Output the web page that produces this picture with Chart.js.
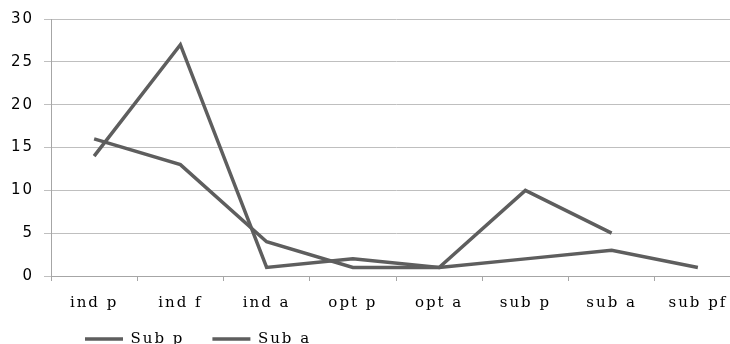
<!DOCTYPE html>
<html>
<head>
<meta charset="utf-8">
<script src="https://cdn.jsdelivr.net/npm/chart.js@4.4.1/dist/chart.umd.min.js"></script>
<style>
  html, body { margin: 0; padding: 0; background: #fff; overflow: hidden; }
  canvas { display: block; }
</style>
</head>
<body>
<canvas id="myChart" width="745" height="344"></canvas>
<script>
var categories = ['ind p', 'ind f', 'ind a', 'opt p', 'opt a', 'sub p', 'sub a', 'sub pf'];
var subP = [14, 27, 1, 2, 1, 10, 5, null];
var subA = [16, 13, 4, 1, 1, 2, 3, 1];
var yTicks = [0, 5, 10, 15, 20, 25, 30];

var lineColor = '#5e5e5e';

// wide old-office text look
var spacing = {
  id: 'spacing',
  beforeLayout: function(chart) { chart.ctx.letterSpacing = '2px'; },
  beforeDraw: function(chart) { chart.ctx.letterSpacing = '2px'; }
};

// put the legend tight under the category labels, like the original
var legendShift = {
  id: 'legendShift',
  afterLayout: function(chart) {
    chart.legend.left = chart.chartArea.left + 6;
    chart.legend.top = chart.chartArea.bottom + 27.5;
  }
};

var ctx = document.getElementById('myChart').getContext('2d');
var myChart = new Chart(ctx, {
  type: 'line',
  data: {
    labels: categories,
    datasets: [{
      label: 'Sub p',
      data: subP,
      borderColor: lineColor,
      backgroundColor: lineColor,
      borderWidth: 3.5,
      pointRadius: 0,
      tension: 0
    }, {
      label: 'Sub a',
      data: subA,
      borderColor: lineColor,
      backgroundColor: lineColor,
      borderWidth: 3.5,
      pointRadius: 0,
      tension: 0
    }]
  },
  options: {
    responsive: false,
    animation: false,
    layout: { padding: { top: 17, right: 4, left: 0, bottom: 0 } },
    scales: {
      x: {
        offset: true,
        grid: { offset: true, drawOnChartArea: false, tickLength: 5, color: '#a6a6a6' },
        border: { color: '#a6a6a6' },
        ticks: {
          maxRotation: 0,
          padding: 13,
          color: '#000',
          font: { family: 'DejaVu Serif', size: 15 }
        },
        afterFit: function(s) { s.height = 40; }
      },
      y: {
        min: yTicks[0],
        max: yTicks[yTicks.length - 1],
        grid: { color: '#bfbfbf', tickLength: 7 },
        border: { color: '#a6a6a6' },
        ticks: {
          stepSize: yTicks[1] - yTicks[0],
          padding: 10,
          color: '#000',
          font: { family: 'DejaVu Sans', size: 15 }
        },
        afterFit: function(s) { s.width = 51; }
      }
    },
    plugins: {
      legend: {
        position: 'bottom',
        align: 'start',
        fullSize: false,
        maxHeight: 28,
        labels: {
          boxWidth: 38,
          boxHeight: 0,
          padding: 28,
          color: '#000',
          font: { family: 'DejaVu Serif', size: 15 }
        }
      },
      tooltip: { enabled: false }
    }
  },
  plugins: [spacing, legendShift]
});
</script>
</body>
</html>
